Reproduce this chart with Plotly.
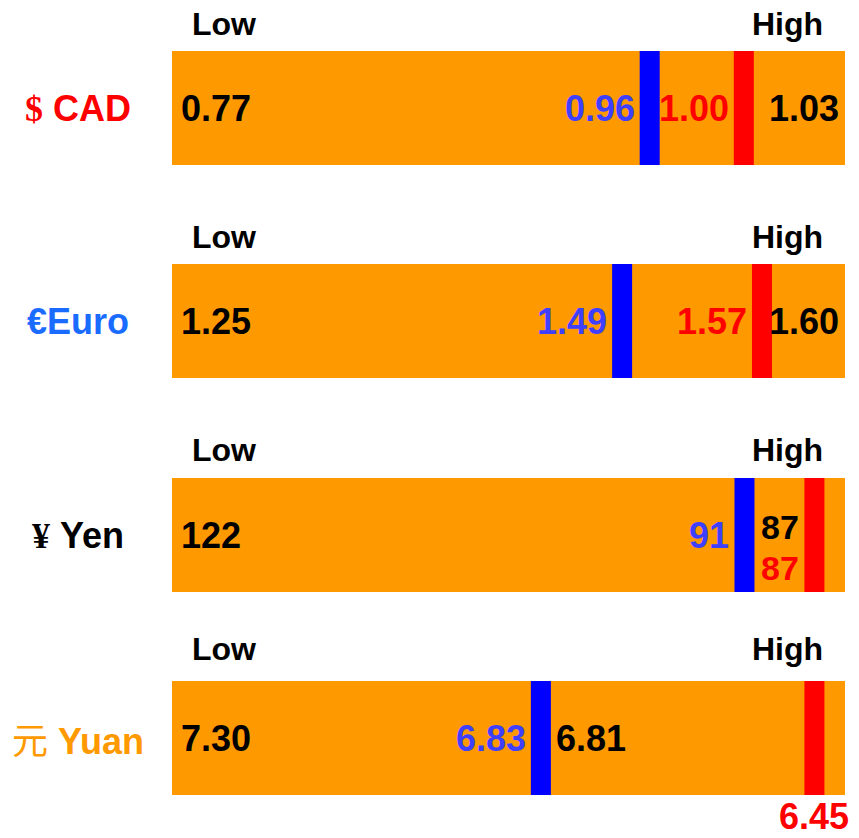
import plotly.graph_objects as go
from plotly.subplots import make_subplots

# ---------------- data ----------------
currencies = ["CAD", "Euro", "Yen", "Yuan"]
symbols = ["$", "€", "¥", "元"]
low_vals = [0.77, 1.25, 122, 7.30]
high_vals = [1.03, 1.60, 87, 6.81]
blue_vals = [0.96, 1.49, 91, 6.83]
red_vals = [1.00, 1.57, 87, 6.45]
decimals = [2, 2, 0, 2]

# ---------------- styles ----------------
ORANGE = "#FF9900"
BLUE_MARK = "#0000FF"
BLUE_TEXT = "#3F3FFF"
RED = "#FF0000"
FONT = "Liberation Sans, Arial, sans-serif"
label_colors = ["#FF0000", "#1A6BFF", "#000000", "#FF9900"]
symbol_fonts = ["Liberation Serif", "Liberation Sans", "Liberation Serif", "Noto Sans CJK SC"]
symbol_bold = [True, True, True, False]
symbol_gap = [" ", "", " ", " "]
high_mode = ["end", "end", "stack", "after_blue"]
red_mode = ["left", "left", "stack", "below"]
lift = [27, 27, 28, 32]

W, H = 859, 838
L, R = 172, 14
PLOT_W = W - L - R
bar_top = [51, 264, 478, 681]
bar_h = 114
PAD = 0.05
VAL_SIZE = 36
MARK_W = 20

fig = make_subplots(rows=4, cols=1)

annotations = []
shapes = []


def fmt(v, d):
    return f"{v:.{d}f}"


for i in range(4):
    n = "" if i == 0 else str(i + 1)
    xr, yr = f"x{n}", f"y{n}"
    lo, hi, bl, rd = low_vals[i], high_vals[i], blue_vals[i], red_vals[i]
    d = decimals[i]
    direction = 1 if hi > lo else -1
    end = hi if (rd - hi) * direction <= 0 else rd
    span = end - lo

    # orange range bar
    fig.add_trace(
        go.Bar(
            y=[0], x=[end - lo], base=[lo], orientation="h", width=1,
            marker=dict(color=ORANGE, line=dict(width=0)),
            showlegend=False, hoverinfo="skip",
        ),
        row=i + 1, col=1,
    )

    y0 = 1 - (bar_top[i] + bar_h) / H
    y1 = 1 - bar_top[i] / H
    fig.update_layout({
        f"xaxis{n}": dict(range=[lo - PAD * span, end + PAD * span], visible=False,
                          fixedrange=True),
        f"yaxis{n}": dict(range=[-0.5, 0.5], visible=False, domain=[y0, y1],
                          fixedrange=True),
    })

    # markers
    for v, c in ((bl, BLUE_MARK), (rd, RED)):
        shapes.append(dict(type="line", xref=xr, yref=f"{yr} domain",
                           x0=v, x1=v, y0=0, y1=1,
                           line=dict(color=c, width=MARK_W)))

    # Low / High headers
    annotations.append(dict(text="<b>Low</b>", xref=f"{xr} domain", yref=f"{yr} domain",
                            x=0.077, y=1, yshift=lift[i], xanchor="center", yanchor="middle",
                            showarrow=False, font=dict(size=32, color="black", family=FONT)))
    annotations.append(dict(text="<b>High</b>", xref=f"{xr} domain", yref=f"{yr} domain",
                            x=0.915, y=1, yshift=lift[i], xanchor="center", yanchor="middle",
                            showarrow=False, font=dict(size=32, color="black", family=FONT)))

    # currency label on the left
    sym = symbols[i]
    sym_txt = f"<b>{sym}</b>" if symbol_bold[i] else sym
    label = (f"<span style=\"font-family:{symbol_fonts[i]}\">{sym_txt}</span>"
             f"{symbol_gap[i]}<b>{currencies[i]}</b>")
    annotations.append(dict(text=label, xref="paper", yref=f"{yr} domain",
                            x=(78 - L) / PLOT_W, y=0.5, xanchor="center", yanchor="middle",
                            showarrow=False,
                            font=dict(size=36, color=label_colors[i], family=FONT)))

    base_font = dict(size=VAL_SIZE, family=FONT)
    # low value (left end)
    annotations.append(dict(text=f"<b>{fmt(lo, d)}</b>", xref=f"{xr} domain",
                            yref=f"{yr} domain", x=0, y=0.5, xshift=7,
                            xanchor="left", yanchor="middle", showarrow=False,
                            font=dict(base_font, color="black")))

    # blue value label (left of blue marker)
    annotations.append(dict(text=f"<b>{fmt(bl, d)}</b>", xref=xr, yref=f"{yr} domain",
                            x=bl, y=0.5, xshift=-13, xanchor="right", yanchor="middle",
                            showarrow=False, font=dict(base_font, color=BLUE_TEXT)))

    # high value label
    hm = high_mode[i]
    if hm == "end":
        annotations.append(dict(text=f"<b>{fmt(hi, d)}</b>", xref=f"{xr} domain",
                                yref=f"{yr} domain", x=1, y=0.5, xshift=-4,
                                xanchor="right", yanchor="middle", showarrow=False,
                                font=dict(base_font, color="black")))
    elif hm == "stack":
        annotations.append(dict(text=f"<b>{fmt(hi, d)}</b>", xref=xr, yref=f"{yr} domain",
                                x=hi, y=0.5, xshift=-13, yshift=8,
                                xanchor="right", yanchor="middle", showarrow=False,
                                font=dict(size=34, family=FONT, color="black")))
    else:  # after_blue
        annotations.append(dict(text=f"<b>{fmt(hi, d)}</b>", xref=xr, yref=f"{yr} domain",
                                x=bl, y=0.5, xshift=13,
                                xanchor="left", yanchor="middle", showarrow=False,
                                font=dict(base_font, color="black")))

    # red (current) value label
    rm = red_mode[i]
    if rm == "left":
        annotations.append(dict(text=f"<b>{fmt(rd, d)}</b>", xref=xr, yref=f"{yr} domain",
                                x=rd, y=0.5, xshift=-13, xanchor="right", yanchor="middle",
                                showarrow=False, font=dict(base_font, color=RED)))
    elif rm == "stack":
        annotations.append(dict(text=f"<b>{fmt(rd, d)}</b>", xref=xr, yref=f"{yr} domain",
                                x=rd, y=0.5, xshift=-13, yshift=-33,
                                xanchor="right", yanchor="middle", showarrow=False,
                                font=dict(size=34, family=FONT, color=RED)))
    else:  # below
        annotations.append(dict(text=f"<b>{fmt(rd, d)}</b>", xref=xr, yref=f"{yr} domain",
                                x=rd, y=0, yshift=-21, xanchor="center", yanchor="middle",
                                showarrow=False, font=dict(base_font, color=RED)))

fig.update_layout(
    width=W, height=H,
    margin=dict(l=L, r=R, t=0, b=0),
    paper_bgcolor="white",
    plot_bgcolor=ORANGE,
    showlegend=False,
    bargap=0,
    annotations=annotations,
    shapes=shapes,
    font=dict(family=FONT),
)

fig.write_html(
    "out.html",
    config={"displayModeBar": False},
    post_script="document.body.style.margin='0';document.body.style.overflow='hidden';",
)
